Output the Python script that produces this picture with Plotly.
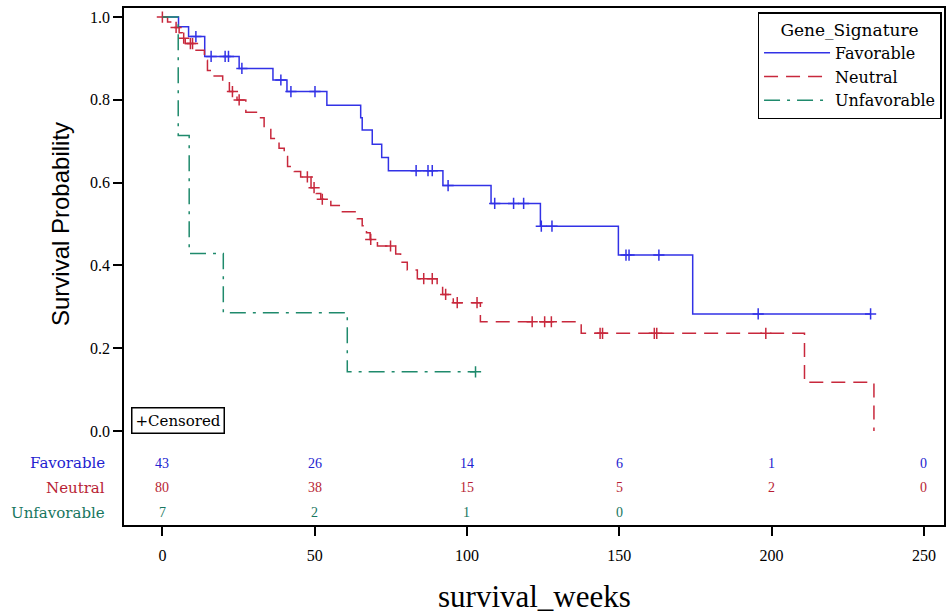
import numpy as np
import plotly.graph_objects as go

# Kaplan-Meier steps (time in weeks, survival after the drop)
fav_time = [0, 5.3, 8.6, 13.9, 25.2, 36.3, 40.9, 54.0, 65.1, 65.6, 68.9, 72.0, 74.2,
            92.1, 107.9, 124.1, 149.7, 174.1, 232.5]
fav_surv = [1.0, 0.977, 0.953, 0.905, 0.876, 0.848, 0.820, 0.787, 0.757, 0.727, 0.693,
            0.661, 0.629, 0.593, 0.550, 0.495, 0.425, 0.283, 0.283]
fav_cens = [11, 16, 20.6, 21.7, 26.1, 38.9, 42.2, 50.1, 83.3, 87.2, 88.6, 93.8, 109.1,
            115.3, 118.6, 124.4, 127.9, 152.2, 153.2, 163, 195.6, 232.5]

neu_time = [0, 1.7, 3.0, 5.5, 6.5, 7.5, 10.5, 13.8, 14.8, 17.0, 19.8, 22.0, 24.5, 27.4,
            31.2, 33.4, 35.6, 38.3, 40.0, 41.1, 43.3, 45.4, 48.8, 50.5, 52.0, 55.3, 59.1,
            64.0, 65.6, 67.0, 68.2, 70.6, 76.6, 78.2, 80.4, 83.7, 90.2, 92.0, 95.5, 104.4,
            137.5, 210.8, 233.6]
neu_surv = [1.0, 0.988, 0.975, 0.962, 0.949, 0.936, 0.920, 0.896, 0.871, 0.858, 0.845,
            0.820, 0.800, 0.770, 0.757, 0.732, 0.707, 0.683, 0.663, 0.639, 0.627, 0.614,
            0.588, 0.574, 0.560, 0.545, 0.530, 0.513, 0.496, 0.479, 0.463, 0.447, 0.428,
            0.408, 0.389, 0.368, 0.349, 0.330, 0.310, 0.264, 0.236, 0.118, 0.0]
neu_cens = [0, 4.5, 7, 9.2, 9.9, 23, 25.2, 47.6, 49.8, 52.5, 68.4, 74.9, 85.8, 88.6, 93,
            96.8, 103.3, 121.4, 125.5, 127.7, 143.7, 144.5, 161.5, 162.3, 198.1]

unf_time = [0, 5.2, 8.8, 20.0, 60.7, 102.8]
unf_surv = [1.0, 0.714, 0.429, 0.286, 0.143, 0.143]
unf_cens = [102.8]

# number at risk
risk_times = [0, 50, 100, 150, 200, 250]
fav_risk = [43, 26, 14, 6, 1, 0]
neu_risk = [80, 38, 15, 5, 2, 0]
unf_risk = [7, 2, 1, 0]

groups = ["Favorable", "Neutral", "Unfavorable"]
colors = ["#3232e6", "#c8283c", "#1f8a6c"]
text_colors = ["#2222d0", "#b81e34", "#177660"]
dashes = ["solid", "14px,8px", "16px,7px,3px,7px"]


def surv_at(times, surv, t):
    i = np.searchsorted(times, t, side="right") - 1
    return surv[max(i, 0)]


fig = go.Figure()
series = [(fav_time, fav_surv, fav_cens), (neu_time, neu_surv, neu_cens),
          (unf_time, unf_surv, unf_cens)]
for (t, s, c), name, col, dsh in zip(series, groups, colors, dashes):
    fig.add_trace(go.Scatter(x=t, y=s, mode="lines", line_shape="hv", name=name,
                             line=dict(color=col, width=1.5, dash=dsh)))
    cy = [surv_at(t, s, v) for v in c]
    fig.add_trace(go.Scatter(x=c, y=cy, mode="markers", showlegend=False,
                             marker=dict(symbol="cross-thin", size=8,
                                         line=dict(color=col, width=1.5))))

serif = "Liberation Serif"
wide = "DejaVu Serif"
ann = []
row_y = [-0.078, -0.137, -0.197]
for risk, name, tc, ry in zip([fav_risk, neu_risk, unf_risk], groups, text_colors, row_y):
    ann.append(dict(x=-0.021, xref="paper", y=ry, yref="y", text=name, showarrow=False,
                    xanchor="right", font=dict(family=wide, size=15, color=tc)))
    for tx, n in zip(risk_times, risk):
        ann.append(dict(x=tx, y=ry, xref="x", yref="y", text=str(n), showarrow=False,
                        font=dict(family=serif, size=14, color=tc)))

ann.append(dict(x=0.009, xref="paper", y=-0.006, yref="y", text="+Censored",
                showarrow=False, xanchor="left", yanchor="bottom",
                font=dict(family=wide, size=15, color="black"),
                bordercolor="black", borderwidth=1.5, borderpad=3, bgcolor="white"))
ann.append(dict(x=-0.097, xref="paper", y=0.5, yref="y", text="Survival Probability",
                showarrow=False, textangle=-90,
                font=dict(family="Liberation Sans", size=24, color="black")))
ann.append(dict(x=0.5, xref="paper", y=-0.138, yref="paper", text="survival_weeks",
                showarrow=False, yanchor="middle",
                font=dict(family=serif, size=31, color="black")))

fig.update_layout(
    width=951, height=614,
    margin=dict(l=124, r=5, t=8, b=89),
    plot_bgcolor="white", paper_bgcolor="white",
    annotations=ann,
    legend=dict(x=0.997, xanchor="right", y=0.992, yanchor="top",
                title=dict(text="Gene_Signature", side="top center",
                           font=dict(family=wide, size=17, color="black")),
                font=dict(family=wide, size=16, color="black"),
                bordercolor="black", borderwidth=1.5, bgcolor="white",
                itemwidth=66, tracegroupgap=0),
)
fig.update_xaxes(range=[-12.6, 256.6], tickvals=risk_times, ticks="outside", ticklen=9,
                 tickwidth=1.5, tickcolor="black", showgrid=False, zeroline=False,
                 showline=True, linecolor="black", linewidth=1.5, mirror=True,
                 ticklabelstandoff=6, tickfont=dict(family=serif, size=16, color="black"))
fig.update_yaxes(range=[-0.227, 1.022], tickvals=[0, 0.2, 0.4, 0.6, 0.8, 1.0],
                 tickformat=".1f", ticks="outside", ticklen=9, tickwidth=1.5,
                 tickcolor="black", showgrid=False, zeroline=False, showline=True,
                 linecolor="black", linewidth=1.5, mirror=True,
                 tickfont=dict(family=serif, size=16, color="black"))

# the page has a default 8px body margin; drop it so the figure sits at the corner
fig.write_html("out.html", config={"displayModeBar": False},
               post_script="document.body.style.margin='0px';")
